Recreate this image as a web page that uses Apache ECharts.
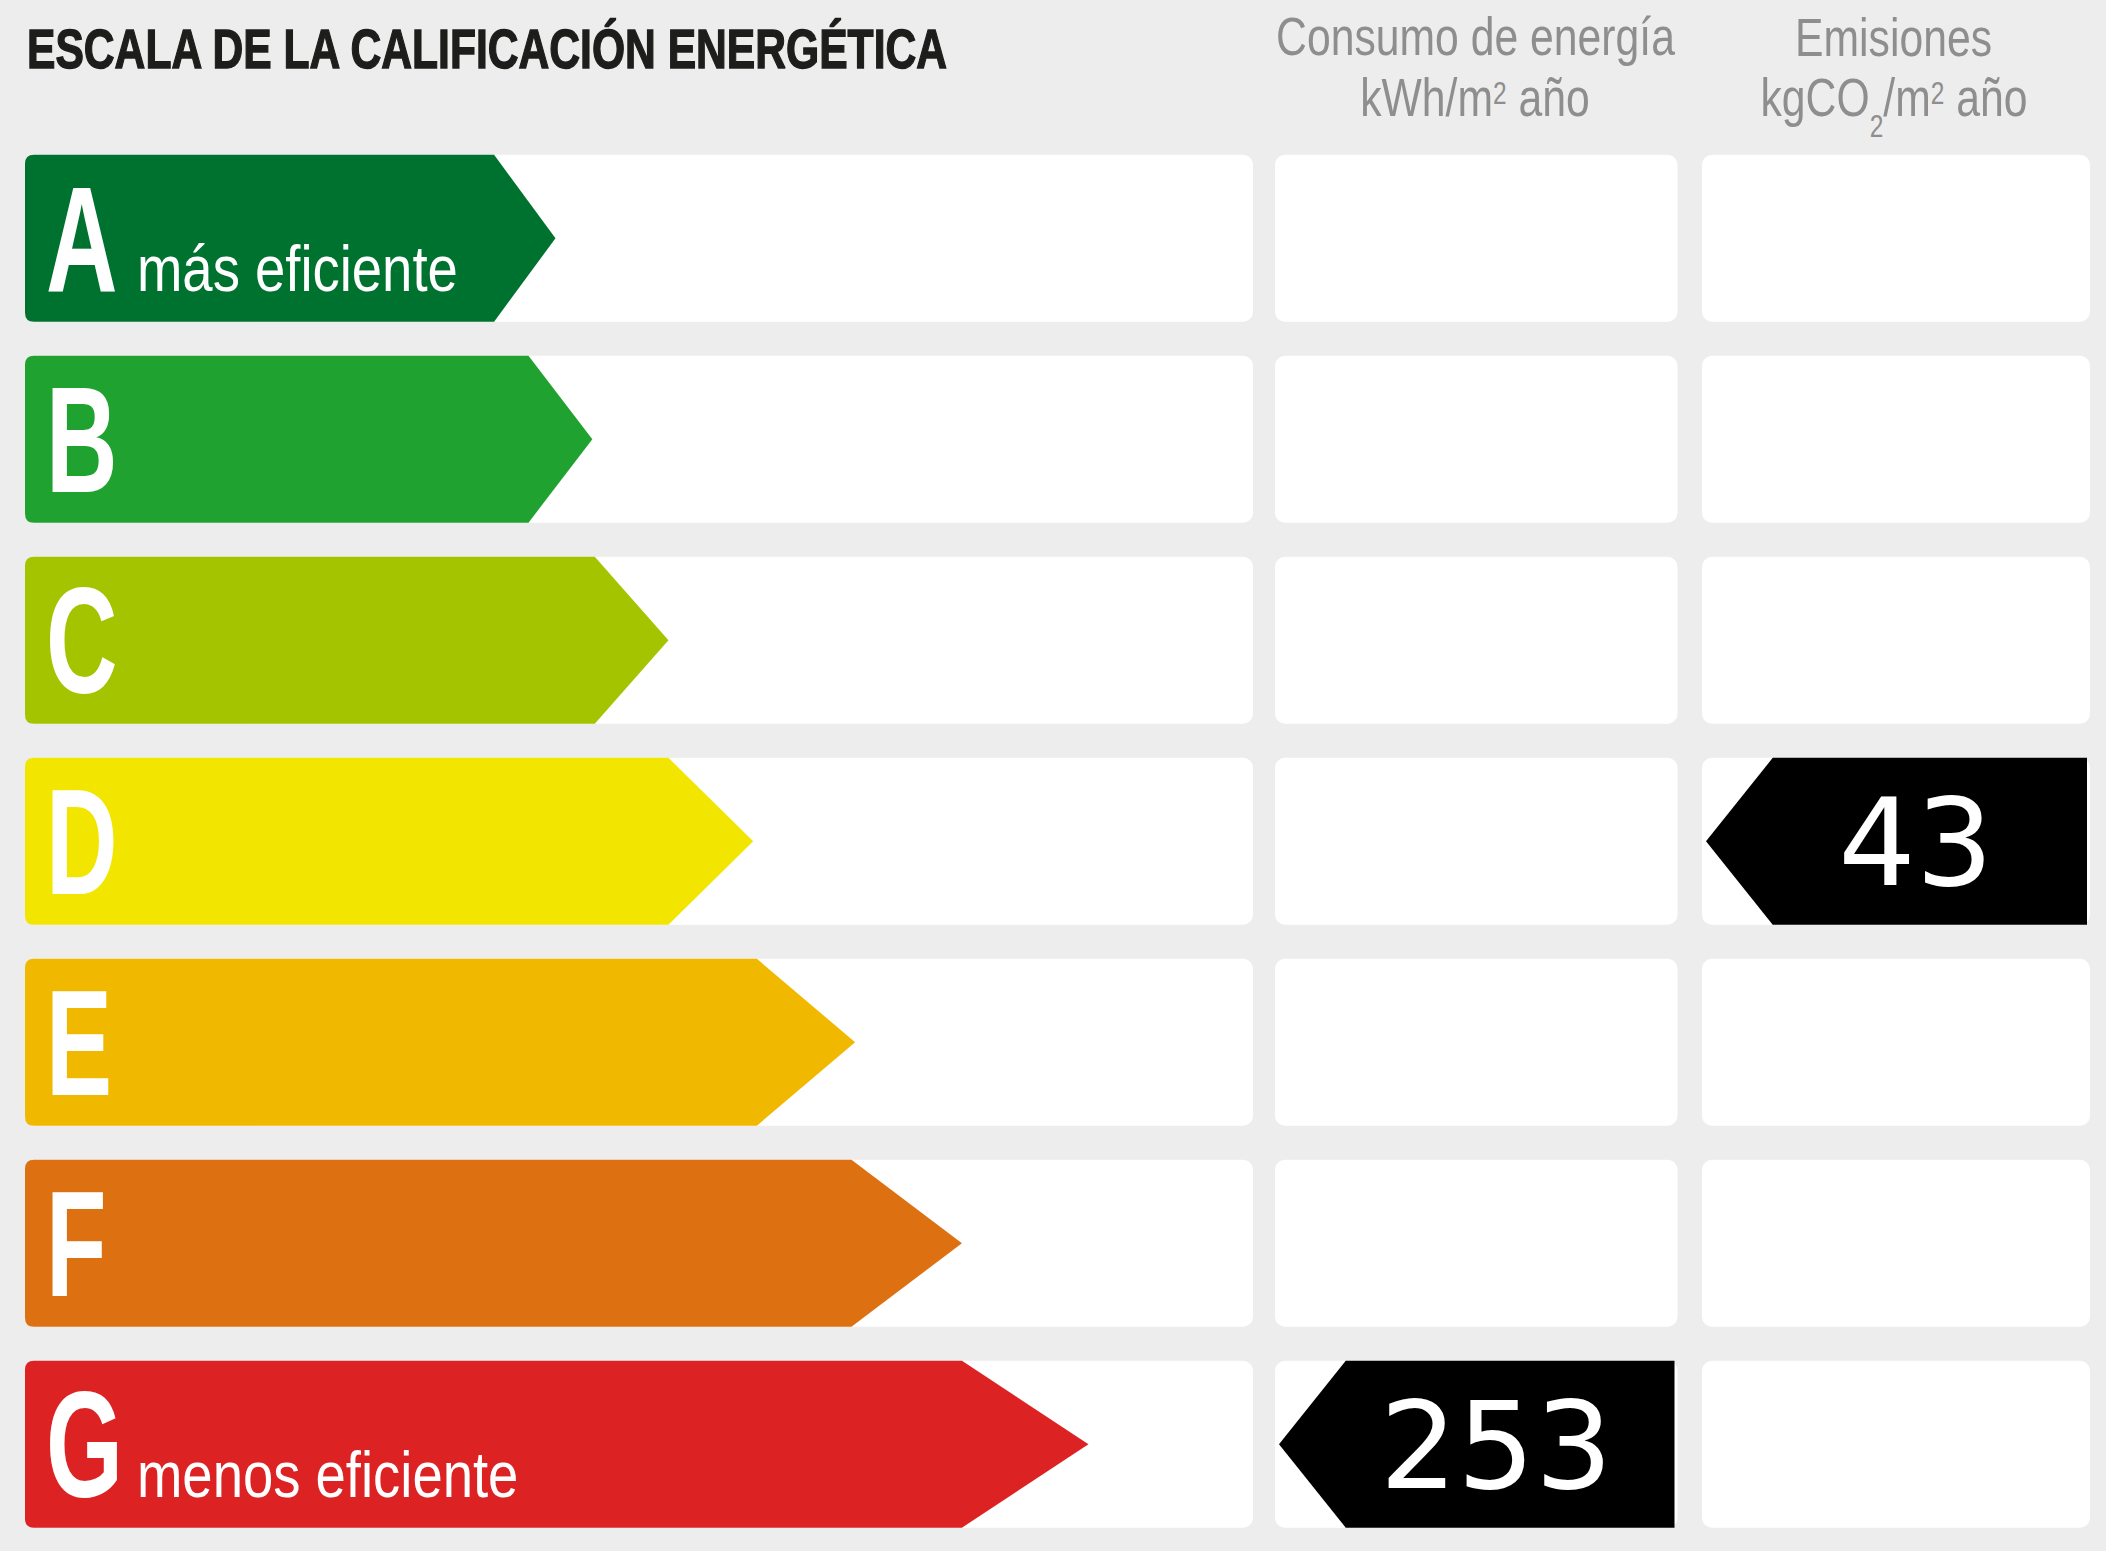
<!DOCTYPE html>
<html>
<head>
<meta charset="utf-8">
<script src="https://cdn.jsdelivr.net/npm/echarts@6.0.0/dist/echarts.min.js"></script>
<style>
  html, body { margin: 0; padding: 0; background: #ededed; }
  #main { width: 2106px; height: 1551px; }
</style>
</head>
<body>
<div id="main"></div>
<script>
// energy classes, top (best) to bottom (worst)
var ratings = ['A', 'B', 'C', 'D', 'E', 'F', 'G'];
// arrow body end and tip, in % of the scale column
var arrowBody = [38.2, 41.0, 46.4, 52.4, 59.6, 67.3, 76.3];
var arrowTip = [43.2, 46.2, 52.4, 59.3, 67.6, 76.3, 86.6];
var ratingColors = ['#00722f', '#20a230', '#a5c400', '#f2e600', '#f1b800', '#dd7111', '#dc2223'];
var ratingNotes = ['más eficiente', '', '', '', '', '', 'menos eficiente'];

// the building's results
var consumoRating = 'G';
var consumoValue = 253;
var emisionesRating = 'D';
var emisionesValue = 43;

var chartDom = document.getElementById('main');
var myChart = echarts.init(chartDom, null, { renderer: 'svg' });

var narrow = '"Liberation Sans Narrow", "Liberation Sans", Arial, sans-serif';
var titleFont = 'bold 56px ' + narrow;
var headFont = '54px ' + narrow;
var smallFont = '31px ' + narrow;
var letterFont = 'bold 150px ' + narrow;
var noteFont = '64px ' + narrow;
var numFont = '122px "DejaVu Sans", sans-serif';

var ctx = document.createElement('canvas').getContext('2d');
function textWidth(text, font) {
  ctx.font = font;
  return ctx.measureText(text).width;
}
// squeeze text so it takes the same width as in the picture
var titleText = 'ESCALA DE LA CALIFICACIÓN ENERGÉTICA';
var titleScale = 923 / textWidth(titleText, titleFont);
var headScale = 399 / textWidth('Consumo de energía', headFont);
var noteScale = 321 / textWidth('más eficiente', noteFont);
var letterScale = 0.66 * textWidth('ABCDEFG', 'bold 150px "Liberation Sans"') / textWidth('ABCDEFG', letterFont);

var gridTop = 137.75, gridHeight = 1407;
var BOX = 0.83; // share of the band used by a row box

function rowBox(api, idx) {
  var yc = api.coord([0, idx])[1];
  var h = api.size([0, 1])[1] * BOX;
  return { yc: yc, top: yc - h / 2, bot: yc + h / 2, h: h };
}

function renderPanel(params, api) {
  var cs = params.coordSys;
  var b = rowBox(api, api.value(1));
  return {
    type: 'rect',
    shape: { x: cs.x, y: b.top, width: cs.width, height: b.h, r: 10 },
    style: { fill: '#ffffff' },
    silent: true
  };
}

function renderArrow(params, api) {
  var i = params.dataIndex;
  var cs = params.coordSys;
  var idx = api.value(2);
  var b = rowBox(api, idx);
  var x0 = cs.x;
  var xt = api.coord([api.value(0), idx])[0];
  var xb = api.coord([api.value(1), idx])[0];
  var r = 9;
  var d = 'M' + (x0 + r) + ' ' + b.top +
    'L' + xb + ' ' + b.top +
    'L' + xt + ' ' + b.yc +
    'L' + xb + ' ' + b.bot +
    'L' + (x0 + r) + ' ' + b.bot +
    'Q' + x0 + ' ' + b.bot + ' ' + x0 + ' ' + (b.bot - r) +
    'L' + x0 + ' ' + (b.top + r) +
    'Q' + x0 + ' ' + b.top + ' ' + (x0 + r) + ' ' + b.top + 'Z';
  var children = [
    { type: 'path', shape: { pathData: d }, style: { fill: ratingColors[i] } },
    {
      type: 'text', x: x0 + 21, y: b.yc + 1, scaleX: letterScale,
      style: { text: ratings[i], font: letterFont, fill: '#ffffff', align: 'left', verticalAlign: 'middle' }
    }
  ];
  if (ratingNotes[i]) {
    children.push({
      type: 'text', x: x0 + 112, y: b.yc + 1 + 0.3465 * (150 - 64), scaleX: noteScale,
      style: { text: ratingNotes[i], font: noteFont, fill: '#ffffff', align: 'left', verticalAlign: 'middle' }
    });
  }
  return { type: 'group', children: children };
}

function renderIndicator(params, api) {
  var cs = params.coordSys;
  var b = rowBox(api, api.value(0));
  var xl = cs.x + 4;
  var xb = xl + b.h * 0.4;
  var xr = cs.x + cs.width - 3;
  return {
    type: 'group',
    children: [
      {
        type: 'polygon',
        shape: { points: [[xl, b.yc], [xb, b.top], [xr, b.top], [xr, b.bot], [xb, b.bot]] },
        style: { fill: '#000000' }
      },
      {
        type: 'text', x: (xb + xr) / 2 - 14, y: b.yc + 2,
        style: { text: String(api.value(1)), font: numFont, fill: '#ffffff', align: 'center', verticalAlign: 'middle' }
      }
    ]
  };
}

var columns = [
  { left: 25, width: 1228 },
  { left: 1275, width: 402.5 },
  { left: 1702, width: 388 }
];

var panelData = ratings.map(function (r, i) { return [100, i]; });
var arrowData = ratings.map(function (r, i) { return [arrowTip[i], arrowBody[i], i]; });

var headRich = {
  a: { font: headFont, fill: '#8e8e8e', lineHeight: 60, verticalAlign: 'top' },
  sup: { font: smallFont, fill: '#8e8e8e', lineHeight: 31, verticalAlign: 'top', padding: [8, 0, 0, 0] },
  sub: { font: smallFont, fill: '#8e8e8e', lineHeight: 31, verticalAlign: 'top', padding: [41, 0, 0, 0] }
};

var option = {
  backgroundColor: '#ededed',
  animation: false,
  grid: columns.map(function (c) {
    return { left: c.left, width: c.width, top: gridTop, height: gridHeight };
  }),
  xAxis: columns.map(function (c, k) {
    return { type: 'value', gridIndex: k, min: 0, max: 100, show: false };
  }),
  yAxis: columns.map(function (c, k) {
    return { type: 'category', gridIndex: k, data: ratings, inverse: true, show: false };
  }),
  series: [
    { type: 'custom', name: 'escala', xAxisIndex: 0, yAxisIndex: 0, z: 1, renderItem: renderPanel, data: panelData, encode: { x: 0, y: 1 } },
    { type: 'custom', name: 'consumo', xAxisIndex: 1, yAxisIndex: 1, z: 1, renderItem: renderPanel, data: panelData, encode: { x: 0, y: 1 } },
    { type: 'custom', name: 'emisiones', xAxisIndex: 2, yAxisIndex: 2, z: 1, renderItem: renderPanel, data: panelData, encode: { x: 0, y: 1 } },
    { type: 'custom', name: 'clases', xAxisIndex: 0, yAxisIndex: 0, z: 2, renderItem: renderArrow, data: arrowData, encode: { x: [0, 1], y: 2 } },
    {
      type: 'custom', name: 'Consumo de energía', xAxisIndex: 1, yAxisIndex: 1, z: 3, renderItem: renderIndicator,
      data: [[ratings.indexOf(consumoRating), consumoValue]], encode: { y: 0 }
    },
    {
      type: 'custom', name: 'Emisiones', xAxisIndex: 2, yAxisIndex: 2, z: 3, renderItem: renderIndicator,
      data: [[ratings.indexOf(emisionesRating), emisionesValue]], encode: { y: 0 }
    }
  ],
  graphic: [
    {
      type: 'text', x: 27, y: 68 - 0.3465 * 56, scaleX: titleScale,
      style: { text: titleText, font: titleFont, fill: '#1d1d1b', stroke: '#1d1d1b', lineWidth: 1.4, align: 'left', verticalAlign: 'middle' }
    },
    {
      type: 'text', x: 1475.5, y: 55 - 0.3465 * 54, scaleX: headScale,
      style: { text: 'Consumo de energía', font: headFont, fill: '#8e8e8e', align: 'center', verticalAlign: 'middle' }
    },
    {
      type: 'text', x: 1475, y: 70, scaleX: headScale,
      style: { text: '{a|kWh/m}{sup|2}{a| año}', rich: headRich, align: 'center', verticalAlign: 'top' }
    },
    {
      type: 'text', x: 1893.5, y: 56 - 0.3465 * 54, scaleX: headScale,
      style: { text: 'Emisiones', font: headFont, fill: '#8e8e8e', align: 'center', verticalAlign: 'middle' }
    },
    {
      type: 'text', x: 1894, y: 70, scaleX: headScale,
      style: { text: '{a|kgCO}{sub|2}{a|/m}{sup|2}{a| año}', rich: headRich, align: 'center', verticalAlign: 'top' }
    }
  ]
};

option && myChart.setOption(option);
</script>
</body>
</html>
